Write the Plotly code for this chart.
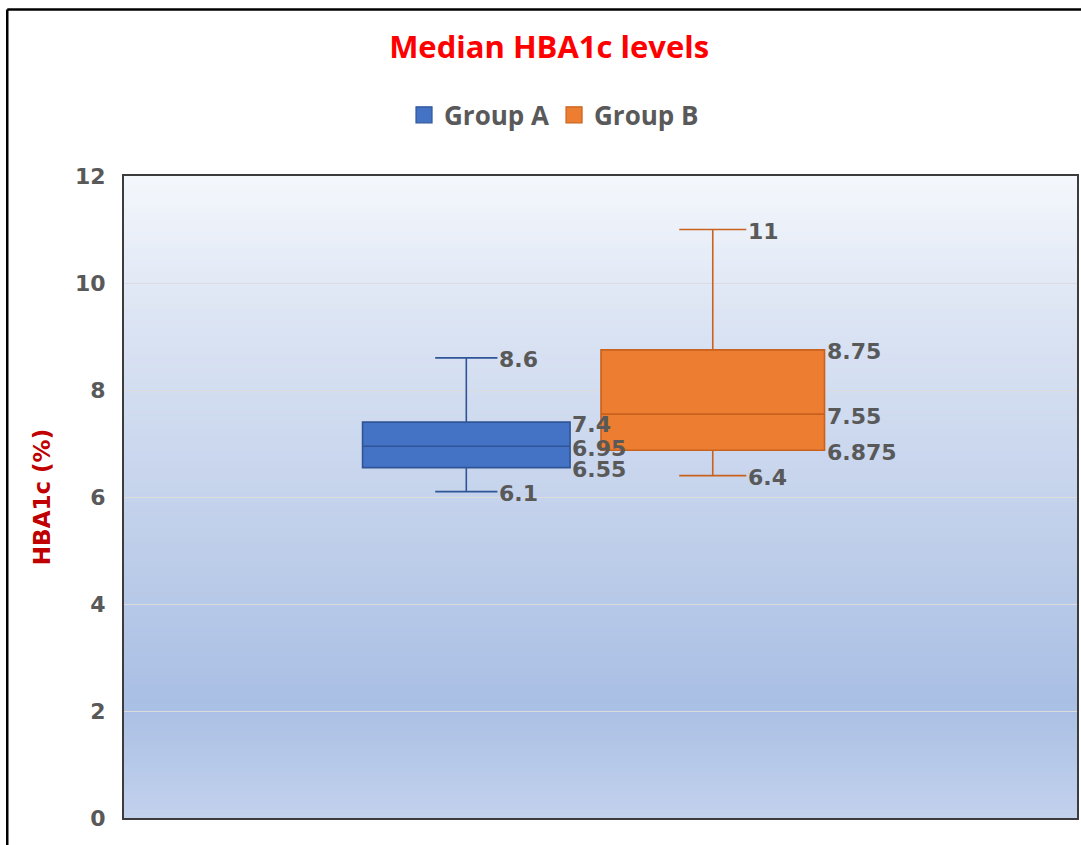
import plotly.graph_objects as go

# ---- data ----
groups = ["Group A", "Group B"]
lower_whisker = [6.1, 6.4]
q1_values = [6.55, 6.875]
median_values = [6.95, 7.55]
q3_values = [7.4, 8.75]
upper_whisker = [8.6, 11]
y_ticks = [0, 2, 4, 6, 8, 10, 12]

fill_colors = ["#4472C4", "#ED7D31"]
line_colors = ["#2F5597", "#C8621E"]
box_widths = [0.842, 0.907]
whisker_frac = 0.3

fig = go.Figure()

for i, g in enumerate(groups):
    fig.add_trace(go.Box(
        x=[g],
        q1=[q1_values[i]], median=[median_values[i]], q3=[q3_values[i]],
        lowerfence=[lower_whisker[i]], upperfence=[upper_whisker[i]],
        name=g, boxpoints=False, showlegend=False,
        fillcolor=fill_colors[i],
        line=dict(color=line_colors[i], width=1.6),
        width=box_widths[i], whiskerwidth=whisker_frac,
        hoverinfo="skip",
    ))
    # legend-only trace
    fig.add_trace(go.Scatter(
        x=[None], y=[None], mode="markers", name=g,
        marker=dict(symbol="square", size=21, color=fill_colors[i],
                    line=dict(color=line_colors[i], width=1.2)),
        showlegend=True,
    ))

# value labels
label_font = dict(family="DejaVu Sans", size=22, color="#595959", weight="bold")
for i, g in enumerate(groups):
    box_edge = i + box_widths[i] / 2
    cap_edge = i + box_widths[i] * whisker_frac / 2
    items = [
        (upper_whisker[i], cap_edge),
        (q3_values[i], box_edge),
        (median_values[i], box_edge),
        (q1_values[i], box_edge),
        (lower_whisker[i], cap_edge),
    ]
    for val, xe in items:
        fig.add_annotation(
            x=xe, y=val, xref="x", yref="y", text=f"{val:g}",
            showarrow=False, xanchor="left", yanchor="middle",
            xshift=0, yshift=-2, font=label_font,
        )

# gradient background of the plot area
stops = [
    (0.00, (0xC2, 0xD1, 0xED)),
    (0.18, (0xA9, 0xBF, 0xE4)),
    (0.50, (0xC5, 0xD3, 0xEC)),
    (0.76, (0xDA, 0xE3, 0xF3)),
    (1.00, (0xF4, 0xF7, 0xFC)),
]

def grad(t):
    for (t0, c0), (t1, c1) in zip(stops[:-1], stops[1:]):
        if t0 <= t <= t1:
            f = (t - t0) / (t1 - t0) if t1 > t0 else 0
            return tuple(round(a + (b - a) * f) for a, b in zip(c0, c1))
    return stops[-1][1]

n = 140
shapes = []
for k in range(n):
    y0 = k / n
    y1 = (k + 1) / n
    c = grad((y0 + y1) / 2)
    shapes.append(dict(
        type="rect", xref="x domain", yref="y domain",
        x0=0, x1=1, y0=y0, y1=y1 + 0.002,
        fillcolor=f"rgb({c[0]},{c[1]},{c[2]})",
        line=dict(width=0), layer="below",
    ))

# outer chart border (top and left, as in the cropped picture)
shapes.append(dict(type="line", xref="paper", yref="paper",
                   x0=-0.1225, x1=1.01, y0=1.2594, y1=1.2594,
                   line=dict(color="#000000", width=2.5)))
shapes.append(dict(type="line", xref="paper", yref="paper",
                   x0=-0.1225, x1=-0.1225, y0=1.2594, y1=-0.05,
                   line=dict(color="#000000", width=2.5)))

fig.update_layout(
    width=1081, height=845,
    margin=dict(l=124, r=2, t=176, b=27),
    paper_bgcolor="white",
    plot_bgcolor="white",
    boxmode="overlay",
    shapes=shapes,
    title=dict(
        text="Median HBA1c levels",
        font=dict(family="Open Sans", size=31, color="#FF0000", weight="bold"),
        xref="container", x=0.508, xanchor="center",
        yref="container", y=0.944, yanchor="middle",
    ),
    legend=dict(
        orientation="h",
        xref="container", x=0.5125, xanchor="center",
        yref="container", y=0.864, yanchor="middle",
        font=dict(family="Open Sans", size=26, color="#595959", weight="bold"),
        bgcolor="rgba(0,0,0,0)",
        itemsizing="trace",
    ),
    xaxis=dict(
        range=[-1.389, 2.478],
        showticklabels=False, ticks="",
        showgrid=False, zeroline=False,
        showline=True, mirror=True, linecolor="#3C3C3C", linewidth=2,
    ),
    yaxis=dict(
        range=[0, 12],
        tickvals=y_ticks,
        ticktext=[str(v) for v in y_ticks],
        tickfont=dict(family="DejaVu Sans", size=22, color="#595959", weight="bold"),
        ticklabelstandoff=12,
        showgrid=True, gridcolor="#DCDCDC", gridwidth=1,
        zeroline=False,
        showline=True, mirror=True, linecolor="#3C3C3C", linewidth=2,
        title=dict(
            text="HBA1c (%)",
            font=dict(family="DejaVu Sans", size=23, color="#C00000", weight="bold"),
            standoff=18,
        ),
    ),
    hovermode=False,
)

fig.write_html("out.html")
